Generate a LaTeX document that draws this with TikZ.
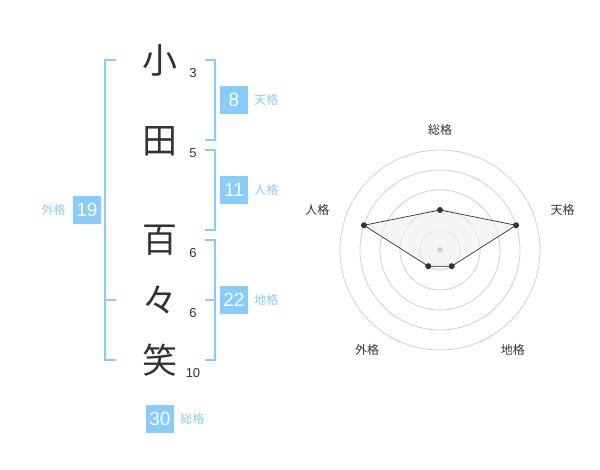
\documentclass[tikz,border=0pt]{standalone}
\usepackage{fontspec}
\setmainfont{Liberation Sans}
\newfontfamily\cjk{Noto Sans CJK JP}
\usepackage{xcolor}
\usepackage{tikz}
\usetikzlibrary{positioning,calc}
\definecolor{kakublue}{RGB}{136,204,250}
\definecolor{inkgray}{RGB}{51,51,51}
\definecolor{ringgray}{RGB}{208,208,208}
\definecolor{areagray}{RGB}{238,238,238}

\begin{document}
\begin{tikzpicture}[x=1pt,y=-1pt,
  kanji/.style={font=\cjk\fontsize{35}{35}\selectfont, text=inkgray, inner sep=0pt},
  strokes/.style={font=\fontsize{13}{13}\selectfont, text=inkgray, inner sep=0pt},
  kakubox/.style={fill=kakublue, text=white, minimum size=28pt, inner sep=0pt, font=\fontsize{19}{19}\selectfont},
  kakulabel/.style={font=\cjk\fontsize{12}{12}\selectfont, text=kakublue, inner sep=0pt},
  bracket/.style={draw=kakublue, line width=2pt},
  axislabel/.style={font=\cjk\fontsize{12}{12}\selectfont, text=inkgray, inner sep=0pt},
  dot/.style={circle, fill=inkgray, inner sep=0pt, minimum size=6pt}]
\useasboundingbox (0,0) rectangle (600,470);

% Name characters
\node[kanji] (c1) at (160,60) {小};
\node[kanji] (c2) at (160,141) {田};
\node[kanji] (c3) at (160,240) {百};
\node[kanji] (c4) at (160,300) {々};
\node[kanji] (c5) at (160,360) {笑};
\node[strokes] (n1) at (193,73) {3};
\node[strokes] (n2) at (193,153) {5};
\node[strokes] (n3) at (193,253) {6};
\node[strokes] (n4) at (193,313) {6};
\node[strokes] (n5) at (193,373) {10};

% Brackets
\draw[bracket] (205,60) -| (215,140) -- (205,140);
\draw[bracket] (205,150) -| (215,230) -- (205,230);
\draw[bracket] (205,240) -| (215,360) -- (205,360);
\draw[bracket] (205,300) -- (215,300);
\draw[bracket] (116,60) -| (105,360) -- (116,360);
\draw[bracket] (105,300) -- (116,300);

% Kaku values
\node[kakubox] (ten) at (234,100) {8};
\node[kakulabel, right=6pt of ten] (tenl) {天格};
\node[kakubox] (jin) at (234,190) {11};
\node[kakulabel, right=6pt of jin] (jinl) {人格};
\node[kakubox] (chi) at (234,300) {22};
\node[kakulabel, right=6pt of chi] (chil) {地格};
\node[kakubox] (gai) at (87,210) {19};
\node[kakulabel, left=7pt of gai] (gail) {外格};
\node[kakubox] (sou) at (160,419) {30};
\node[kakulabel, right=6pt of sou] (soul) {総格};

% Radar chart
\coordinate (o) at (440,250);
\foreach \r in {20,40,60,80,100}
  \draw[ringgray, line width=0.8pt] (o) circle[radius=\r];
\coordinate (psou) at ($(o)+(-90:40)$);
\coordinate (pten) at ($(o)+(-18:80)$);
\coordinate (pchi) at ($(o)+(54:20)$);
\coordinate (pgai) at ($(o)+(126:20)$);
\coordinate (pjin) at ($(o)+(198:80)$);
\draw[inkgray, line width=0.7pt, fill=areagray, fill opacity=0.6]
  (psou) -- (pten) -- (pchi) -- (pgai) -- (pjin) -- cycle;
\node[circle, fill=ringgray, inner sep=0pt, minimum size=6pt] (mid) at (o) {};
\foreach \p in {psou,pten,pchi,pgai,pjin}
  \node[dot] at (\p) {};
\node[axislabel] (asou) at ($(o)+(-90:120)$) {総格};
\node[axislabel] (aten) at ($(o)+(-18:129)$) {天格};
\node[axislabel] (achi) at ($(o)+(54:124)$) {地格};
\node[axislabel] (agai) at ($(o)+(126:124)$) {外格};
\node[axislabel] (ajin) at ($(o)+(198:129)$) {人格};
\end{tikzpicture}
\end{document}
